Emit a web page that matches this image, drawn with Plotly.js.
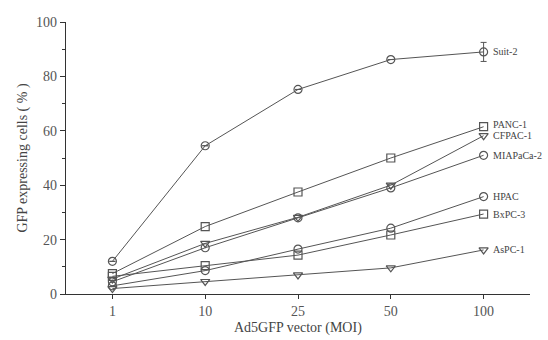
<!DOCTYPE html>
<html><head><meta charset="utf-8">
<script src="https://cdn.plot.ly/plotly-3.0.1.min.js"></script>
<style>html,body{margin:0;padding:0;background:#fff}#c{width:548px;height:340px}</style>
</head><body><div id="c"></div>
<script>
const moi = ["1","10","25","50","100"];
const suit2 = [12, 54.5, 75.2, 86.2, 89];
const suit2Err = [0, 0, 0, 0, 3.5];
const panc1 = [7.5, 24.8, 37.5, 50, 61.5];
const cfpac1 = [5.5, 18.6, 28.2, 40, 58.2];
const miapaca2 = [4.5, 17, 28, 39, 51];
const hpac = [3, 8.6, 16.5, 24.2, 35.8];
const bxpc3 = [6.5, 10.4, 14.3, 21.7, 29.4];
const aspc1 = [2, 4.6, 7, 9.6, 16.2];
const names = ["Suit-2","PANC-1","CFPAC-1","MIAPaCa-2","HPAC","BxPC-3","AsPC-1"];
const labelY = [89, 62.5, 58.2, 51, 35.8, 29.4, 16.2];

const FF = "'Times New Roman', 'Liberation Serif', Times, serif";
const col = "#555";
const series = [
  [suit2, "circle-open"], [panc1, "square-open"], [cfpac1, "triangle-down-open"],
  [miapaca2, "circle-open"], [hpac, "circle-open"], [bxpc3, "square-open"], [aspc1, "triangle-down-open"]
];
const traces = series.map((s, i) => {
  const t = {
    x: moi, y: s[0], type: "scatter", mode: "lines+markers", name: names[i],
    line: {color: col, width: 1},
    marker: {symbol: s[1], size: 8, color: col, line: {width: 1.2, color: col}},
    cliponaxis: false
  };
  if (i === 0) t.error_y = {type: "data", array: suit2Err, visible: true, color: col, thickness: 1, width: 3};
  return t;
});
const annotations = names.map((n, i) => ({
  x: 4, y: labelY[i], xref: "x", yref: "y", text: n, showarrow: false,
  xanchor: "left", xshift: 7, font: {family: FF, size: 10, color: "#444"}
}));
annotations.push({
  x: 0.5, y: 0, xref: "paper", yref: "paper", yshift: -44, text: "Ad5GFP vector (MOI)",
  showarrow: false, yanchor: "bottom", font: {family: FF, size: 14, color: "#444"}
});
const layout = {
  width: 548, height: 340,
  margin: {l: 66, r: 18, t: 22, b: 46},
  paper_bgcolor: "#fff", plot_bgcolor: "#fff",
  showlegend: false,
  font: {family: FF, color: "#555"},
  xaxis: {
    type: "category", range: [-0.5, 4.5], showgrid: false, zeroline: false,
    showline: true, linecolor: "#333", linewidth: 1.3,
    ticks: "outside", ticklen: 4, tickcolor: "#333",
    tickfont: {family: FF, size: 14, color: "#555"}
  },
  yaxis: {
    range: [0, 100], tickvals: [0, 20, 40, 60, 80, 100], showgrid: false, zeroline: false,
    showline: true, linecolor: "#333", linewidth: 1.3,
    ticks: "outside", ticklen: 5, tickcolor: "#333",
    minor: {tickvals: [10, 30, 50, 70, 90], ticks: "outside", ticklen: 3, tickcolor: "#333"},
    tickfont: {family: FF, size: 14, color: "#555"},
    title: {text: "GFP expressing cells ( % )", standoff: 5, font: {family: FF, size: 14, color: "#444"}}
  },
  annotations: annotations
};
Plotly.newPlot("c", traces, layout, {displayModeBar: false, staticPlot: true});
</script></body></html>
